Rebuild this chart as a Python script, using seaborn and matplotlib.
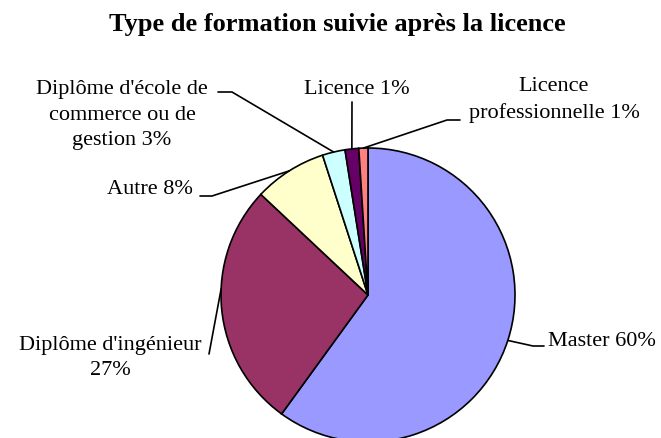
import numpy as np
import matplotlib
matplotlib.use("Agg")
import matplotlib.pyplot as plt
import seaborn as sns
from matplotlib.lines import Line2D

categories = ["Master", "Diplôme d'ingénieur", "Autre",
              "Diplôme d'école de commerce ou de gestion", "Licence",
              "Licence professionnelle"]
values = [60, 27, 8, 2.5, 1.5, 1.0]
label_texts = ["Master 60%", "Diplôme d'ingénieur\n27%", "Autre 8%",
               "Diplôme d'école de\ncommerce ou de\ngestion 3%", "Licence 1%",
               "Licence\nprofessionnelle 1%"]
colors = ["#9999FF", "#993366", "#FFFFCC", "#CCFFFF", "#660066", "#FF8080"]
title = "Type de formation suivie après la licence"

sns.set_theme(style="white")
plt.rcParams['font.family'] = ['Liberation Serif', 'DejaVu Serif']

W, H = 661, 439
fig = plt.figure(figsize=(W / 100, H / 100), dpi=100)
ax = fig.add_axes([0, 0, 1, 1])

cx, cy, R = 368, 296, 147  # pixel layout of the pie

wedges, _ = ax.pie(values, colors=colors, startangle=90, counterclock=False,
                   radius=1, wedgeprops=dict(edgecolor="black", linewidth=1.2))
ax.set_aspect('auto')
ax.set_xlim(-cx / R, (W - cx) / R)
ax.set_ylim((cy - H) / R, cy / R)
ax.axis('off')


def px(x, y):
    return (x / W, 1 - y / H)


def data_to_fig(x, y):
    disp = ax.transData.transform((x, y))
    return fig.transFigure.inverted().transform(disp)


# layout: (text x, text y, ha, anchor fraction along wedge, [leader points in pixels])
layout = [
    (548, 342, 'left', 0.5, [(533, 347), (544, 347)]),
    (110, 358, 'center', 0.42, [(209, 355)]),
    (193, 190, 'right', 0.5, [(212, 197), (200, 197)]),
    (122, 115, 'center', 0.5, [(232, 93), (218, 93)]),
    (357, 90, 'center', 0.5, [(352, 103)]),
    (554, 100, 'center', 0.5, [(447, 121), (460, 121)]),
]

for w, lab, (tx, ty, ha, frac, pts) in zip(wedges, label_texts, layout):
    ang = np.deg2rad(w.theta1 + frac * (w.theta2 - w.theta1))
    start = data_to_fig(np.cos(ang), np.sin(ang))
    xs = [start[0]] + [px(*p)[0] for p in pts]
    ys = [start[1]] + [px(*p)[1] for p in pts]
    fig.add_artist(Line2D(xs, ys, color="black", linewidth=1.2,
                          transform=fig.transFigure))
    fig.text(*px(tx, ty), lab, ha=ha, va='center', fontsize=16,
             linespacing=1.45, color="black")

fig.text(*px(337, 25), title, ha='center', va='center', fontsize=19,
         fontweight='bold', color="black")

fig.savefig("out.png", dpi=100, facecolor="white")
